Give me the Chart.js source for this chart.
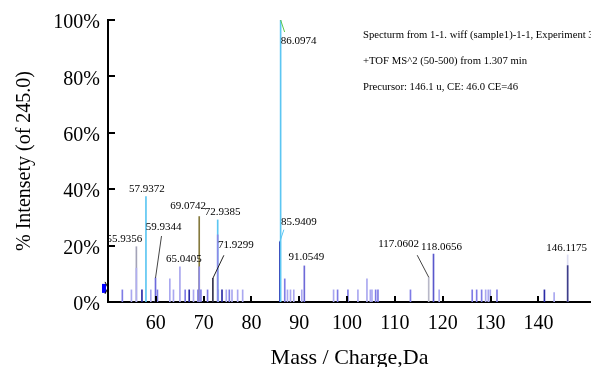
<!DOCTYPE html>
<html>
<head>
<meta charset="utf-8">
<title>MS/MS spectrum</title>
<script src="https://cdn.jsdelivr.net/npm/chart.js@4.4.1/dist/chart.umd.min.js"></script>
<style>
  html, body { margin: 0; padding: 0; background: #fff; }
  #wrap { position: relative; width: 591px; height: 367px; }
</style>
</head>
<body>
<div id="wrap"><canvas id="spectrum"></canvas></div>
<script>
// labelled fragment ions: m/z and % of base peak
var peakMz  = [55.9356, 57.9372, 59.9344, 65.0405, 69.0742, 71.9299, 72.9385, 85.9409, 86.0974, 91.0549, 117.0602, 118.0656, 146.1175];
var peakPct = [19.6, 37.4, 8.5, 12.5, 30.3, 8.4, 29.1, 21.4, 100, 12.8, 8.8, 17.0, 16.7];

// lower part of a few labelled peaks (second trace underneath)
var coreMz  = [55.9356, 69.0742, 72.9385, 146.1175];
var corePct = [12.0, 12.5, 23.8, 12.9];

// small unlabelled ions, split by trace
var darkMz  = [57.1, 66.98, 73.84, 141.26];
var darkPct = [4.3, 4.3, 4.3, 4.3];
var midMz   = [53.0, 60.34, 66.14, 68.81, 69.43, 70.82, 75.37, 86.96, 98.01, 100.17, 105.97, 106.45, 113.25, 126.16, 127.09, 128.13, 131.34];
var midPct  = [4.3, 4.3, 4.3, 4.3, 4.3, 4.3, 4.3, 8.2, 4.3, 4.3, 4.3, 4.3, 4.3, 4.3, 4.3, 4.3, 4.3];
var lightMz  = [54.9, 58.95, 62.93, 63.69, 67.88, 73.06, 74.74, 75.93, 77.11, 78.16, 87.53, 88.16, 88.85, 90.52, 97.17, 102.26, 104.15, 104.86, 105.2, 119.25, 128.97, 129.52, 129.94, 143.29];
var lightPct = [4.3, 4.3, 8.2, 4.3, 4.3, 4.3, 4.3, 4.3, 4.3, 4.3, 4.3, 4.3, 4.3, 4.3, 4.3, 4.3, 8.2, 4.3, 4.3, 4.3, 4.3, 4.3, 4.3, 3.3];

var xTicks = [60, 70, 80, 90, 100, 110, 120, 130, 140];
var yTicks = [0, 20, 40, 60, 80, 100];

var infoLines = [
  'Specturm from 1-1. wiff (sample1)-1-1, Experiment 3',
  '+TOF MS^2 (50-500) from 1.307 min',
  'Precursor: 146.1 u, CE: 46.0 CE=46'
];

var SERIF = '"Liberation Serif", "Times New Roman", serif';

function pts(xs, ys) {
  return xs.map(function (x, i) { return {x: x, y: ys[i]}; });
}

var peakColors = ['#a3a3b8', '#5cc6f2', '#6d6adc', '#a9a6ee', '#857a3e', '#33334d', '#5cc6f2',
                  '#2b2bb0', '#5cc6f2', '#6e6ad8', '#b8b8c8', '#5a58cc', '#dcdcf2'];
var coreColors = ['#b0aef0', '#8d8ae6', '#8d8ae6', '#3e3e8a'];

// text centre offset from the peak top, plus optional leader line start
var labelPlace = [
  {dx: -12, dy: -8},
  {dx: 1, dy: -7},
  {dx: 8, dy: -51, lx: -2, ly: 9, lc: '#444'},
  {dx: 4, dy: -7.5},
  {dx: -11, dy: -10},
  {dx: 23, dy: -33, lx: -12, ly: 10, lc: '#222'},
  {dx: 5, dy: -8},
  {dx: 19, dy: -20, lx: -15, ly: 8, lc: '#5cc6f2'},
  {dx: 18, dy: 21, lx: -14, ly: -9, lc: '#5cc84a'},
  {dx: 2, dy: -9},
  {dx: -30, dy: -33, lx: 18.5, ly: 11, lc: '#444'},
  {dx: 8, dy: -7},
  {dx: -1, dy: -7}
];

var decorations = {
  id: 'decorations',
  afterDatasetsDraw: function (chart) {
    var ctx = chart.ctx, xs = chart.scales.x, ys = chart.scales.y, area = chart.chartArea;
    ctx.save();

    // inner tick marks
    ctx.strokeStyle = '#000';
    ctx.lineWidth = 2;
    xTicks.forEach(function (v) {
      var px = Math.round(xs.getPixelForValue(v));
      ctx.beginPath();
      ctx.moveTo(px, area.bottom);
      ctx.lineTo(px, area.bottom - 6);
      ctx.stroke();
    });
    yTicks.forEach(function (v) {
      var py = Math.round(ys.getPixelForValue(v));
      ctx.beginPath();
      ctx.moveTo(area.left, py);
      ctx.lineTo(area.left + 7, py);
      ctx.stroke();
    });

    // peak labels and leaders
    ctx.font = '11px ' + SERIF;
    ctx.fillStyle = '#000';
    ctx.textAlign = 'center';
    ctx.textBaseline = 'middle';
    peakMz.forEach(function (mz, i) {
      var px = xs.getPixelForValue(mz), py = ys.getPixelForValue(peakPct[i]);
      var p = labelPlace[i];
      var cx = px + p.dx, cy = py + p.dy;
      if (p.lc) {
        ctx.strokeStyle = p.lc;
        ctx.lineWidth = 1;
        ctx.beginPath();
        ctx.moveTo(cx + p.lx, cy + p.ly);
        ctx.lineTo(px, py);
        ctx.stroke();
      }
      ctx.fillText(mz.toFixed(4), cx, cy);
    });

    // precursor marker on the intensity axis
    var my = ys.getPixelForValue(5);
    ctx.fillStyle = '#0000ff';
    ctx.fillRect(area.left - 6, my - 4, 4, 9);
    ctx.strokeStyle = '#000';
    ctx.lineWidth = 1;
    ctx.beginPath();
    ctx.moveTo(area.left - 3, my - 6);
    ctx.lineTo(area.left, my);
    ctx.lineTo(area.left - 3, my + 6);
    ctx.stroke();

    // acquisition info
    ctx.font = '10.7px ' + SERIF;
    ctx.fillStyle = '#000';
    ctx.textAlign = 'left';
    infoLines.forEach(function (t, i) {
      ctx.fillText(t, 363, 35 + i * 26);
    });
    ctx.restore();
  }
};

function barSet(data, color, order) {
  return {
    data: data,
    backgroundColor: color,
    borderWidth: 0,
    barThickness: 1,
    grouped: false,
    order: order
  };
}

new Chart(document.getElementById('spectrum'), {
  type: 'bar',
  data: {
    datasets: [
      barSet(pts(coreMz, corePct), coreColors, 0),
      barSet(pts(peakMz, peakPct), peakColors, 1),
      barSet(pts(darkMz, darkPct), '#2b2ba6', 2),
      barSet(pts(midMz, midPct), '#7f7ce6', 3),
      barSet(pts(lightMz, lightPct), '#aaa8f0', 4)
    ]
  },
  options: {
    responsive: true,
    maintainAspectRatio: false,
    animation: false,
    layout: {padding: {top: 20, right: 0, bottom: 0, left: 0}},
    plugins: {legend: {display: false}, tooltip: {enabled: false}},
    scales: {
      x: {
        type: 'linear',
        offset: false,
        min: 50,
        max: 151,
        afterBuildTicks: function (s) { s.ticks = xTicks.map(function (v) { return {value: v}; }); },
        afterFit: function (s) { s.height = 65; },
        grid: {display: false, drawTicks: false},
        border: {display: true, color: '#000', width: 2},
        ticks: {color: '#000', font: {family: SERIF, size: 20}, padding: 10, maxRotation: 0, autoSkip: false},
        title: {display: true, text: 'Mass / Charge,Da', color: '#000', font: {family: SERIF, size: 22, lineHeight: 1}, padding: {top: 0, bottom: -2}}
      },
      y: {
        min: 0,
        max: 100,
        afterBuildTicks: function (s) { s.ticks = yTicks.map(function (v) { return {value: v}; }); },
        afterFit: function (s) { s.width = 108; },
        grid: {display: false, drawTicks: false},
        border: {display: true, color: '#000', width: 2},
        ticks: {color: '#000', font: {family: SERIF, size: 20}, padding: 8, labelOffset: 3,
                callback: function (v) { return v + '%'; }},
        title: {display: true, text: '% Intensety (of 245.0)', color: '#000', font: {family: SERIF, size: 20, lineHeight: 1}, padding: {top: 15, bottom: 0}}
      }
    }
  },
  plugins: [decorations]
});
</script>
</body>
</html>
